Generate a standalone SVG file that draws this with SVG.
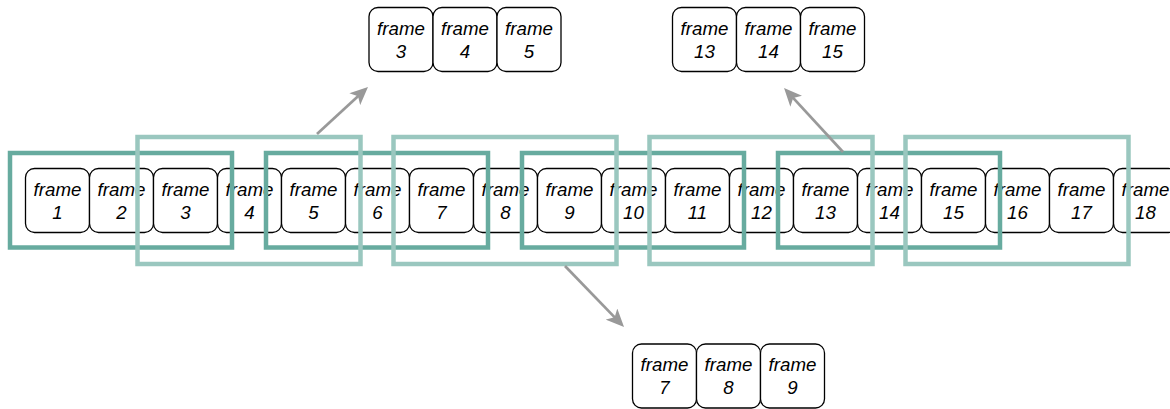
<svg xmlns="http://www.w3.org/2000/svg" width="1170" height="409" viewBox="0 0 1170 409">
  <style>
    .frame rect { fill: #ffffff; stroke: #000000; stroke-width: 1.3; }
    .frame text { font-family: "Liberation Sans", Arial, sans-serif; font-style: italic; font-size: 18.7px; fill: #000000; text-anchor: middle; }
    .win-a { fill: none; stroke: #67AB9F; stroke-width: 4.5; }
    .win-b { fill: none; stroke: #9AC7BF; stroke-width: 4.5; }
    .conn { fill: none; stroke: #999999; stroke-width: 2.7; }
  </style>
  <defs>
    <marker id="arrow" viewBox="0 0 18 16" refX="7" refY="8" markerWidth="18" markerHeight="16" markerUnits="userSpaceOnUse" orient="auto">
      <path d="M18,8 L0,0 L4.5,8 L0,16 Z" fill="#999999"/>
    </marker>
  </defs>

  <!-- main sequence of frames -->
  <g id="row">
    <g id="f1" class="frame" transform="translate(25.5,168.5)"><rect width="64" height="64" rx="9"/><text x="32" y="27">frame</text><text x="32" y="50">1</text></g>
    <g id="f2" class="frame" transform="translate(89.5,168.5)"><rect width="64" height="64" rx="9"/><text x="32" y="27">frame</text><text x="32" y="50">2</text></g>
    <g id="f3" class="frame" transform="translate(153.5,168.5)"><rect width="64" height="64" rx="9"/><text x="32" y="27">frame</text><text x="32" y="50">3</text></g>
    <g id="f4" class="frame" transform="translate(217.5,168.5)"><rect width="64" height="64" rx="9"/><text x="32" y="27">frame</text><text x="32" y="50">4</text></g>
    <g id="f5" class="frame" transform="translate(281.5,168.5)"><rect width="64" height="64" rx="9"/><text x="32" y="27">frame</text><text x="32" y="50">5</text></g>
    <g id="f6" class="frame" transform="translate(345.5,168.5)"><rect width="64" height="64" rx="9"/><text x="32" y="27">frame</text><text x="32" y="50">6</text></g>
    <g id="f7" class="frame" transform="translate(409.5,168.5)"><rect width="64" height="64" rx="9"/><text x="32" y="27">frame</text><text x="32" y="50">7</text></g>
    <g id="f8" class="frame" transform="translate(473.5,168.5)"><rect width="64" height="64" rx="9"/><text x="32" y="27">frame</text><text x="32" y="50">8</text></g>
    <g id="f9" class="frame" transform="translate(537.5,168.5)"><rect width="64" height="64" rx="9"/><text x="32" y="27">frame</text><text x="32" y="50">9</text></g>
    <g id="f10" class="frame" transform="translate(601.5,168.5)"><rect width="64" height="64" rx="9"/><text x="32" y="27">frame</text><text x="32" y="50">10</text></g>
    <g id="f11" class="frame" transform="translate(665.5,168.5)"><rect width="64" height="64" rx="9"/><text x="32" y="27">frame</text><text x="32" y="50">11</text></g>
    <g id="f12" class="frame" transform="translate(729.5,168.5)"><rect width="64" height="64" rx="9"/><text x="32" y="27">frame</text><text x="32" y="50">12</text></g>
    <g id="f13" class="frame" transform="translate(793.5,168.5)"><rect width="64" height="64" rx="9"/><text x="32" y="27">frame</text><text x="32" y="50">13</text></g>
    <g id="f14" class="frame" transform="translate(857.5,168.5)"><rect width="64" height="64" rx="9"/><text x="32" y="27">frame</text><text x="32" y="50">14</text></g>
    <g id="f15" class="frame" transform="translate(921.5,168.5)"><rect width="64" height="64" rx="9"/><text x="32" y="27">frame</text><text x="32" y="50">15</text></g>
    <g id="f16" class="frame" transform="translate(985.5,168.5)"><rect width="64" height="64" rx="9"/><text x="32" y="27">frame</text><text x="32" y="50">16</text></g>
    <g id="f17" class="frame" transform="translate(1049.5,168.5)"><rect width="64" height="64" rx="9"/><text x="32" y="27">frame</text><text x="32" y="50">17</text></g>
    <g id="f18" class="frame" transform="translate(1113.5,168.5)"><rect width="64" height="64" rx="9"/><text x="32" y="27">frame</text><text x="32" y="50">18</text></g>
  </g>

  <!-- sliding windows, four frames apart -->
  <g id="windows-a">
    <rect class="win-a" x="10" y="153" width="222" height="94.5"/>
    <rect class="win-a" x="266" y="153" width="222" height="94.5"/>
    <rect class="win-a" x="522" y="153" width="222" height="94.5"/>
    <rect class="win-a" x="778" y="153" width="222" height="94.5"/>
  </g>
  <g id="windows-b">
    <rect class="win-b" x="137.5" y="137" width="223" height="127"/>
    <rect class="win-b" x="393.5" y="137" width="223" height="127"/>
    <rect class="win-b" x="649.5" y="137" width="223" height="127"/>
    <rect class="win-b" x="905.5" y="137" width="223" height="127"/>
  </g>

  <!-- extracted clips -->
  <g id="clip-3-5">
    <g class="frame" transform="translate(369,7.5)"><rect width="64" height="64" rx="9"/><text x="32" y="27">frame</text><text x="32" y="50">3</text></g>
    <g class="frame" transform="translate(433,7.5)"><rect width="64" height="64" rx="9"/><text x="32" y="27">frame</text><text x="32" y="50">4</text></g>
    <g class="frame" transform="translate(497,7.5)"><rect width="64" height="64" rx="9"/><text x="32" y="27">frame</text><text x="32" y="50">5</text></g>
  </g>
  <g id="clip-13-15">
    <g class="frame" transform="translate(672.5,7.5)"><rect width="64" height="64" rx="9"/><text x="32" y="27">frame</text><text x="32" y="50">13</text></g>
    <g class="frame" transform="translate(736.5,7.5)"><rect width="64" height="64" rx="9"/><text x="32" y="27">frame</text><text x="32" y="50">14</text></g>
    <g class="frame" transform="translate(800.5,7.5)"><rect width="64" height="64" rx="9"/><text x="32" y="27">frame</text><text x="32" y="50">15</text></g>
  </g>
  <g id="clip-7-9">
    <g class="frame" transform="translate(632.5,344)"><rect width="64" height="64" rx="9"/><text x="32" y="27">frame</text><text x="32" y="50">7</text></g>
    <g class="frame" transform="translate(696.5,344)"><rect width="64" height="64" rx="9"/><text x="32" y="27">frame</text><text x="32" y="50">8</text></g>
    <g class="frame" transform="translate(760.5,344)"><rect width="64" height="64" rx="9"/><text x="32" y="27">frame</text><text x="32" y="50">9</text></g>
  </g>

  <!-- connectors -->
  <g id="connectors">
    <line class="conn" x1="317" y1="134" x2="359.9" y2="94.5" marker-end="url(#arrow)"/>
    <line class="conn" x1="843" y1="152" x2="791.5" y2="96.1" marker-end="url(#arrow)"/>
    <line class="conn" x1="565" y1="266" x2="616.4" y2="319.1" marker-end="url(#arrow)"/>
  </g>
</svg>
